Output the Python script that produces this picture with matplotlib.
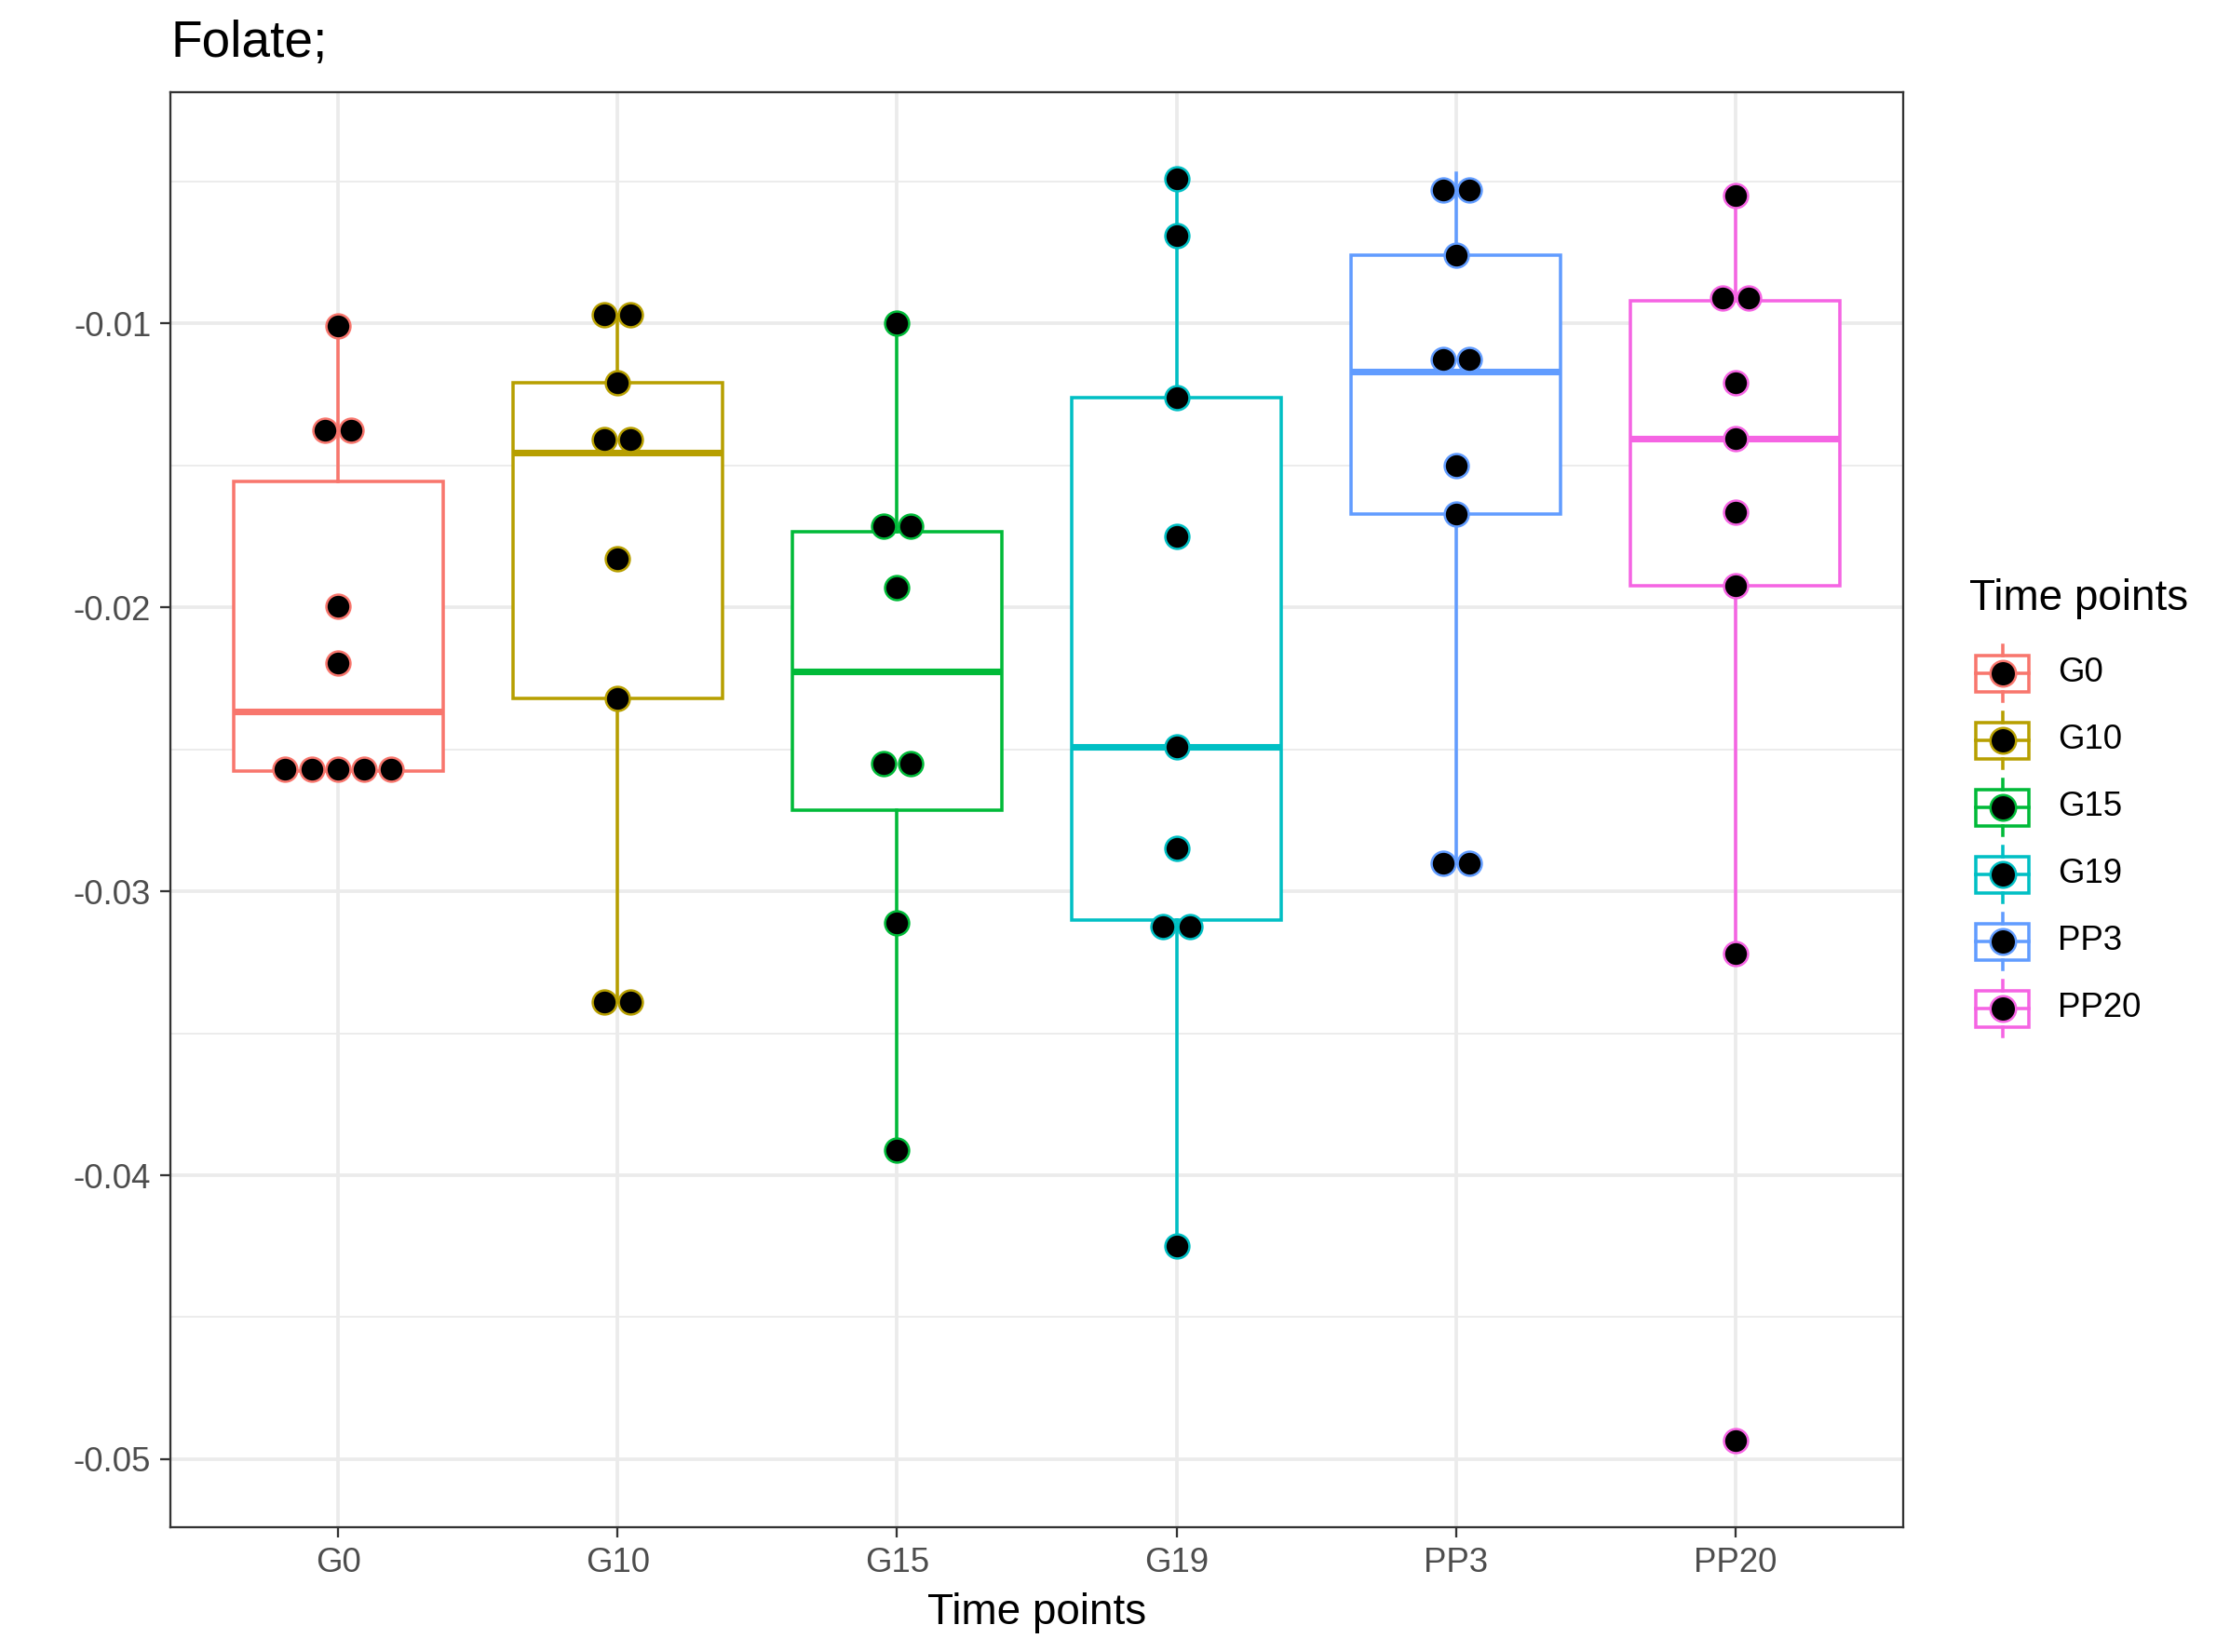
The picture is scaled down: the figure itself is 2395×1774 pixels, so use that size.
import matplotlib
matplotlib.use('Agg')
import matplotlib.pyplot as plt
from matplotlib.patches import Rectangle
import numpy as np

plt.rcParams['font.family'] = ['Liberation Sans', 'DejaVu Sans']

# Data
groups = ['G0', 'G10', 'G15', 'G19', 'PP3', 'PP20']
colors = ['#F8766D', '#B79F00', '#00BA38', '#00BFC4', '#619CFF', '#F564E3']

g0 = [-0.0101, -0.0134, -0.0141, -0.01995, -0.02195,
      -0.0254, -0.0257, -0.0258, -0.0259, -0.0260]
g10 = [-0.0097, -0.0097, -0.0121, -0.0136, -0.01456,
       -0.0183, -0.0232, -0.0339, -0.0339]
g15 = [-0.0100, -0.0168, -0.0175, -0.0193,
       -0.0252, -0.0258, -0.0311, -0.0391]
g19 = [-0.0049, -0.0069, -0.0126, -0.0175, -0.0249,
       -0.0285, -0.0310, -0.0315, -0.0425]
pp3 = [-0.0047, -0.0059, -0.0076, -0.0108, -0.0117,
       -0.0150, -0.0167, -0.0290, -0.0290]
pp20 = [-0.0055, -0.0090, -0.0092, -0.0121, -0.01405,
        -0.01666, -0.01923, -0.0322, -0.04935]
values = [g0, g10, g15, g19, pp3, pp20]

binwidth = 0.0015


def dot_bins(vals, width):
    # dot-density binning: a bin starts at a point and spans `width`
    v = np.sort(vals)
    bins = []
    end = -np.inf
    for x in v:
        if x >= end:
            bins.append([])
            end = x + width
        bins[-1].append(x)
    return [((min(b) + max(b)) / 2, len(b)) for b in bins]


W, H, dpi = 2395, 1774, 300
fig = plt.figure(figsize=(W / dpi, H / dpi), dpi=dpi)
ax = fig.add_axes([183 / W, 1 - 1640 / H, (2044 - 183) / W, (1640 - 99) / H])

pos = np.arange(1, len(groups) + 1)
ax.set_xlim(0.4, len(groups) + 0.6)

# y range from dot extents, expanded by 5%
centers = [c for v in values for c, n in dot_bins(v, binwidth)]
lo = min(min(centers) - binwidth / 2, min(min(v) for v in values))
hi = max(max(centers) + binwidth / 2, max(max(v) for v in values))
pad = 0.05 * (hi - lo)
ax.set_ylim(lo - pad, hi + pad)

lw = 0.85

# boxplots
bp = ax.boxplot(values, positions=pos, widths=0.75, patch_artist=True,
                showfliers=False, showcaps=False, whis=1.5, zorder=2)
for i, c in enumerate(colors):
    bp['boxes'][i].set(facecolor='white', edgecolor=c, linewidth=lw)
    bp['medians'][i].set(color=c, linewidth=1.7)
    for w in bp['whiskers'][2 * i:2 * i + 2]:
        w.set(color=c, linewidth=lw)

# dots stacked horizontally, centred on each group
dot_pt = 6.8
ax_w_px = (2044 - 183)
step = dot_pt / 72 * dpi / (ax_w_px / 6.2)
for i, (v, c) in enumerate(zip(values, colors)):
    for yc, n in dot_bins(v, binwidth):
        xs = pos[i] + (np.arange(n) - (n - 1) / 2) * step
        ax.scatter(xs, [yc] * n, s=(dot_pt - 0.6) ** 2, color='black',
                   edgecolors=c, linewidths=0.6, zorder=3)

# axes styling (theme_bw look)
yt = [-0.05, -0.04, -0.03, -0.02, -0.01]
ax.set_yticks(yt)
ax.set_yticklabels(['%g' % t for t in yt])
ax.set_yticks([-0.045, -0.035, -0.025, -0.015, -0.005], minor=True)
ax.set_xticks(pos)
ax.set_xticklabels(groups)
ax.grid(True, which='major', color='#EBEBEB', linewidth=0.9, zorder=0)
ax.grid(True, which='minor', axis='y', color='#EBEBEB', linewidth=0.45, zorder=0)
ax.set_axisbelow(True)
ax.tick_params(which='major', length=2.6, width=0.55, color='#333333',
               labelsize=8.8, labelcolor='#4D4D4D', pad=2.4)
ax.tick_params(which='minor', length=0)
for s in ax.spines.values():
    s.set_color('#333333')
    s.set_linewidth(0.55)
ax.set_xlabel('Time points', fontsize=11, labelpad=3.5)

fig.text(184 / W, 1 - 61 / H, 'Folate;', fontsize=13.2, va='baseline', ha='left')

# legend drawn in figure pixel space
lax = fig.add_axes([0, 0, 1, 1])
lax.set_xlim(0, W)
lax.set_ylim(H, 0)
lax.axis('off')
lax.text(2115, 643, 'Time points', fontsize=11, va='center', ha='left')
kx0, kx1 = 2122, 2179
kxc = (kx0 + kx1) / 2
for i, (g, c) in enumerate(zip(groups, colors)):
    cy = 723 + 72 * i
    lax.add_patch(Rectangle((kx0, cy - 19.5), kx1 - kx0, 39, facecolor='white',
                            edgecolor=c, linewidth=lw))
    lax.plot([kx0, kx1], [cy, cy], color=c, linewidth=lw)
    lax.plot([kxc, kxc], [cy - 30, cy - 19.5], color=c, linewidth=lw)
    lax.plot([kxc, kxc], [cy + 19.5, cy + 30], color=c, linewidth=lw)
    lax.scatter([kxc], [cy], s=(dot_pt - 0.2) ** 2, color='black',
                edgecolors=c, linewidths=0.6, zorder=3)
    lax.text(2210, cy, g, fontsize=8.8, va='center', ha='left')

fig.savefig('out.png', dpi=dpi)
